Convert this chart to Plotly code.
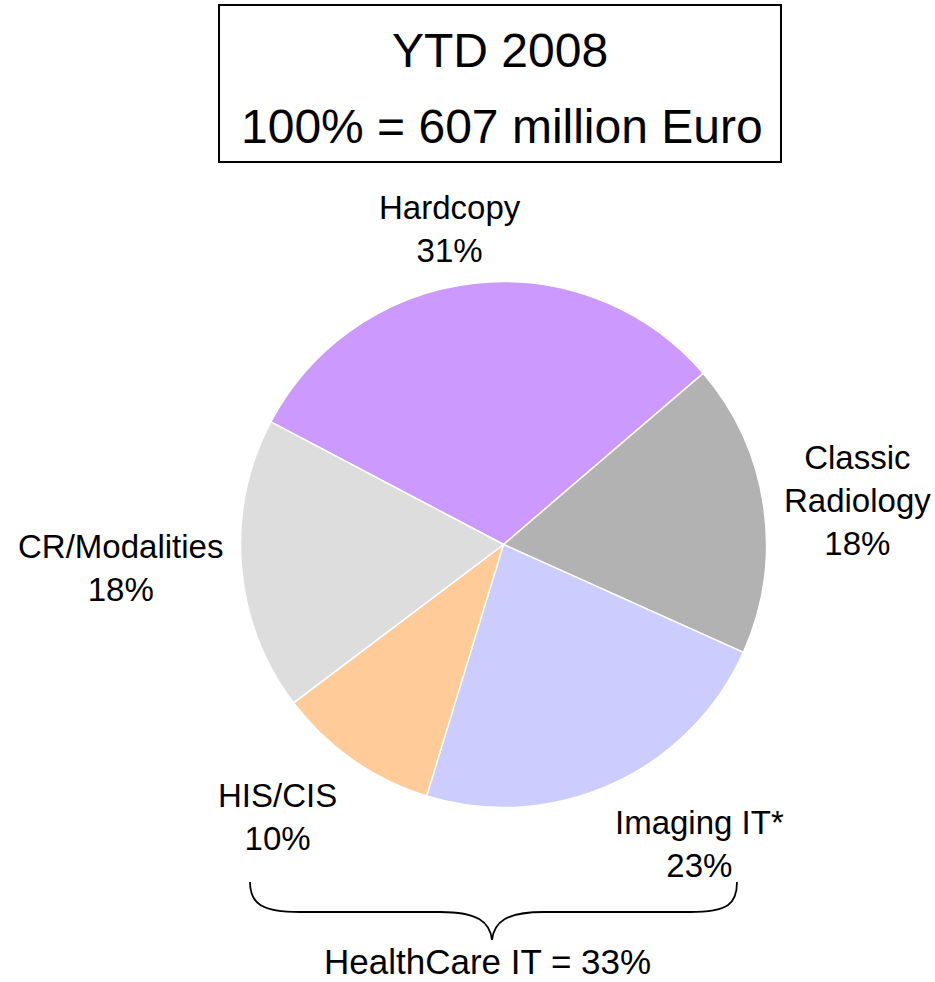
import plotly.graph_objects as go

# Revenue split, year to date 2008 (share of total, %)
segments = ["Hardcopy", "Classic<br>Radiology", "Imaging IT*", "HIS/CIS", "CR/Modalities"]
shares = [31, 18, 23, 10, 18]
colors = ["#CC99FF", "#B2B2B2", "#CCCCFF", "#FFCC99", "#DDDDDD"]
total_meur = 607
healthcare_it = ["Imaging IT*", "HIS/CIS"]

W, H = 935, 982
FONT = "Liberation Sans, Arial, Helvetica, sans-serif"

# pie placement in pixels (centre and radius)
cx, cy, r = 503.5, 544.5, 263

fig = go.Figure()
fig.add_trace(go.Pie(
    labels=[s.replace("<br>", " ") for s in segments],
    values=shares,
    sort=False,
    direction="clockwise",
    rotation=-62.2,
    marker=dict(colors=colors, line=dict(color="white", width=1.5)),
    textinfo="none",
    hoverinfo="label+percent",
    showlegend=False,
    domain=dict(x=[(cx - r) / W, (cx + r) / W], y=[1 - (cy + r) / H, 1 - (cy - r) / H]),
))

# slice label anchor points (pixels)
label_pos = {
    "Hardcopy": (450, 229),
    "Classic<br>Radiology": (857, 500),
    "Imaging IT*": (699, 844),
    "HIS/CIS": (277, 817),
    "CR/Modalities": (120, 568),
}
for name, pct in zip(segments, shares):
    x, y = label_pos[name]
    fig.add_annotation(x=x, y=y, xref="x", yref="y", text=f"{name}<br>{pct}%",
                       showarrow=False, font=dict(family=FONT, size=33, color="black"),
                       align="center", xanchor="center", yanchor="middle")

# title box
fig.add_shape(type="rect", xref="x", yref="y", x0=219, y0=5, x1=781, y1=162,
              line=dict(color="black", width=2), fillcolor="white")
fig.add_annotation(x=500, y=50, xref="x", yref="y", text="YTD 2008", showarrow=False,
                   font=dict(family=FONT, size=48, color="black"))
fig.add_annotation(x=502, y=126, xref="x", yref="y", text=f"100% = {total_meur} million Euro",
                   showarrow=False, font=dict(family=FONT, size=48, color="black"))

# brace grouping the HealthCare IT segments
brace = ("M 250,882 C 250,904 262,912 300,912 L 440,912 "
         "C 478,912 490,922 492,940 C 494,922 506,912 544,912 "
         "L 690,912 C 728,912 737,904 737,882")
fig.add_shape(type="path", xref="x", yref="y", path=brace,
              line=dict(color="black", width=1.8))
hc_total = sum(v for s, v in zip(segments, shares) if s in healthcare_it)
fig.add_annotation(x=487, y=H, xref="x", yref="y", text=f"HealthCare IT = {hc_total}%",
                   showarrow=False, borderpad=0, yanchor="bottom",
                   font=dict(family=FONT, size=35, color="black"))

fig.update_layout(
    width=W, height=H,
    margin=dict(l=0, r=0, t=0, b=0),
    paper_bgcolor="white", plot_bgcolor="rgba(0,0,0,0)",
    xaxis=dict(range=[0, W], visible=False, fixedrange=True),
    yaxis=dict(range=[H, 0], visible=False, fixedrange=True),
)

fig.write_html("out.html")
